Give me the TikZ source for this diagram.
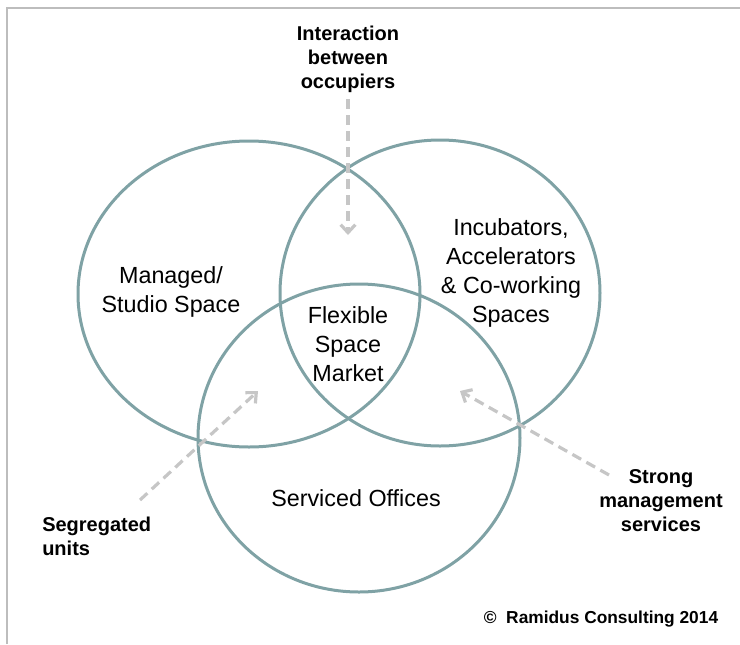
\documentclass[tikz,border=0pt]{standalone}
\usepackage{fontspec}
\setmainfont{Liberation Sans}
\usetikzlibrary{arrows.meta}
\definecolor{circcol}{HTML}{7FA2A5}
\definecolor{arrcol}{HTML}{C6C6C6}
\definecolor{framecol}{HTML}{BDBDBD}
\begin{document}
\begin{tikzpicture}[x=0.75pt,y=-0.75pt,
  circ/.style={draw=circcol,line width=2.25pt},
  darrow/.style={draw=arrcol,line width=2.4pt,dash pattern=on 7.5pt off 4.5pt,
    -{Straight Barb[length=6pt,width=11pt]}},
  lab/.style={font=\fontsize{17.5}{21.75}\selectfont,align=center,inner sep=0pt},
  blab/.style={font=\bfseries\fontsize{15}{18}\selectfont,align=center,inner sep=0pt}]
\useasboundingbox (0,0) rectangle (740,644);
% frame
\draw[framecol,line width=2pt] (7,644) -- (7,8) -- (740,8);
% circles
\draw[circ] (249,294) ellipse [x radius=128.25pt, y radius=114.75pt];
\draw[circ] (440,293) ellipse [x radius=120pt, y radius=114.75pt];
\draw[circ] (359,438) ellipse [x radius=120.75pt, y radius=115.5pt];
% labels in circles
\node[lab] (managed) at (171,292) {Managed/\\Studio Space};
\node[lab] (incub) at (511,273) {Incubators,\\Accelerators\\\& Co-working\\Spaces};
\node[lab] (flex) at (348,344) {Flexible\\Space\\Market};
\node[lab] (serv) at (356,498) {Serviced Offices};
% outer labels
\node[blab] (inter) at (348,59) {Interaction\\between\\occupiers};
\node[blab,align=left,anchor=west] (segr) at (42,536) {Segregated\\units};
\node[blab] (strong) at (661,501) {Strong\\management\\services};
\node[font=\bfseries\fontsize{13}{16}\selectfont,inner sep=0pt] (copy) at (601,619) {©\ \ Ramidus Consulting 2014};
% arrows
\coordinate (t1) at (348,99);
\coordinate (h1) at (348,235);
\coordinate (t2) at (140,500);
\coordinate (h2) at (258,391);
\coordinate (t3) at (609,475);
\coordinate (h3) at (460,391);
\draw[darrow] (t1) -- (h1);
\draw[darrow] (t2) -- (h2);
\draw[darrow] (t3) -- (h3);
\end{tikzpicture}
\end{document}
